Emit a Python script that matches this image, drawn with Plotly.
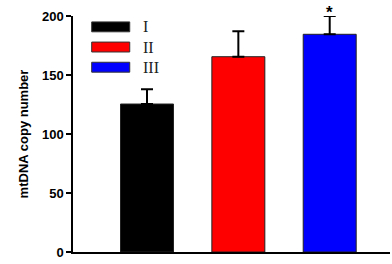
import plotly.graph_objects as go

categories = ["I", "II", "III"]
values = [125.4, 165.5, 184.5]
errors = [12.5, 21.5, 15.5]
colors = ["#000000", "#ff0000", "#0000ff"]
yticks = [0, 50, 100, 150, 200]

fig = go.Figure()
fig.add_trace(go.Bar(
    x=list(range(len(categories))), y=values,
    width=0.58,
    marker=dict(color=colors, line=dict(color="#222222", width=1)),
    error_y=dict(type="data", array=errors, arrayminus=[0]*3, symmetric=False,
                 color="#000000", thickness=2, width=6),
    showlegend=False,
))

# significance marker
fig.add_annotation(x=2, y=values[2] + errors[2], text="*", showarrow=False,
                   yanchor="bottom", yshift=-8,
                   font=dict(family="Arial", size=17, color="black", weight="bold"))

# legend drawn as swatches
for i, (c, lab) in enumerate(zip(colors, categories)):
    y0 = 1.0 - 0.025 - i * 0.0855
    fig.add_shape(type="rect", xref="paper", yref="paper",
                  x0=0.059, x1=0.179, y0=y0 - 0.042, y1=y0,
                  fillcolor=c, line=dict(color="#333333", width=1))
    fig.add_annotation(xref="paper", yref="paper", x=0.215, y=y0 - 0.021,
                       text=lab, showarrow=False, xanchor="left", yanchor="middle",
                       font=dict(family="Liberation Serif", size=16, color="#222222"))

fig.update_layout(
    width=392, height=264,
    margin=dict(l=73, r=2, t=16, b=12),
    paper_bgcolor="white", plot_bgcolor="white",
    xaxis=dict(range=[-0.81, 2.66], showticklabels=False, ticks="", showgrid=False,
               zeroline=False, showline=True, linecolor="black", linewidth=2),
    yaxis=dict(range=[0, 200], tickvals=yticks, ticks="outside", ticklen=5, tickwidth=1.5,
               tickcolor="black", showgrid=False, zeroline=False, showline=True,
               linecolor="black", linewidth=1.5,
               tickfont=dict(family="Arial", size=13, color="black", weight="bold"),
               title=dict(text="mtDNA copy number", standoff=10,
                          font=dict(family="Arial", size=13, color="black", weight="bold"))),
)

fig.write_html("out.html")
